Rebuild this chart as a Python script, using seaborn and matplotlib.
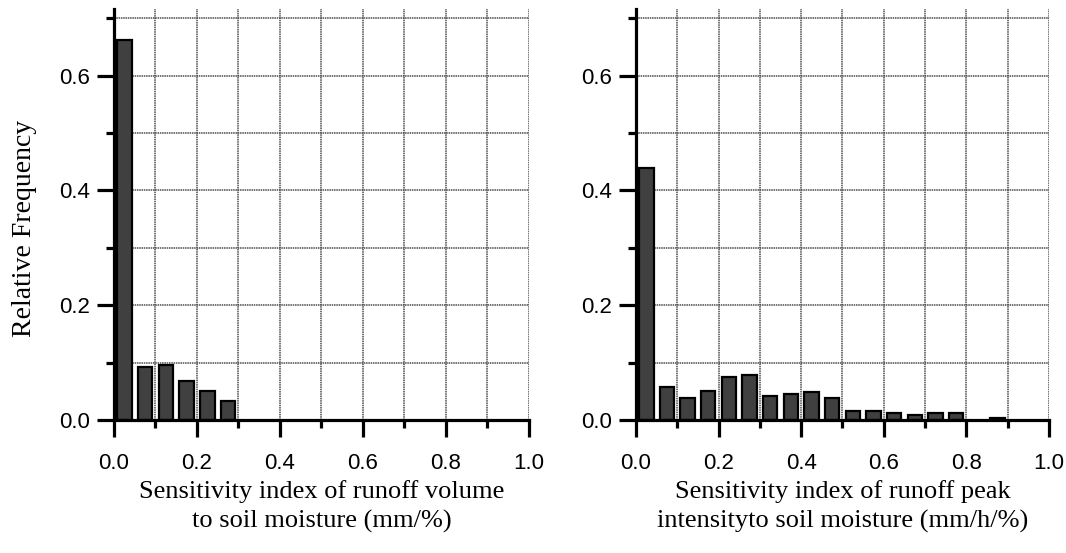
import pandas as pd
import matplotlib
matplotlib.use("Agg")
import matplotlib.pyplot as plt
from matplotlib.ticker import MultipleLocator, FormatStrFormatter
import seaborn as sns

# Bin centres of the sensitivity index (bin width 0.05) and relative frequencies
bin_centres = [0.025, 0.075, 0.125, 0.175, 0.225, 0.275, 0.325, 0.375, 0.425, 0.475,
               0.525, 0.575, 0.625, 0.675, 0.725, 0.775, 0.825, 0.875, 0.925, 0.975]
freq_volume = [0.663, 0.092, 0.096, 0.068, 0.050, 0.033, 0.0, 0.0, 0.0, 0.0,
               0.0, 0.0, 0.0, 0.0, 0.0, 0.0, 0.0, 0.0, 0.0, 0.0]
freq_peak = [0.440, 0.058, 0.038, 0.050, 0.075, 0.078, 0.042, 0.046, 0.049, 0.038,
             0.016, 0.016, 0.013, 0.009, 0.012, 0.012, 0.0, 0.004, 0.0, 0.0]

xlabel_volume = "Sensitivity index of runoff volume\nto soil moisture (mm/%)"
xlabel_peak = "Sensitivity index of runoff peak\nintensityto soil moisture (mm/h/%)"
ylabel = "Relative Frequency"

sns.set_theme(style="white")
plt.rcParams["font.family"] = ["Liberation Sans", "DejaVu Sans"]

fig = plt.figure(figsize=(10.66, 5.53), dpi=100)
ax_l = fig.add_axes([0.1069, 0.2405, 0.3893, 0.7430])
ax_r = fig.add_axes([0.5966, 0.2405, 0.3874, 0.7430])

serif = {"family": "Liberation Serif", "size": 19, "color": "black"}


def draw_panel(ax, freqs, xlabel):
    df = pd.DataFrame({"index": bin_centres, "freq": freqs})
    df = df[df["freq"] > 0]
    sns.barplot(data=df, x="index", y="freq", native_scale=True, width=0.7,
                color="#404040", saturation=1.0, edgecolor="black",
                linewidth=1.6, errorbar=None, ax=ax, zorder=3)
    ax.set_xlim(0, 1.0)
    ax.set_ylim(0, 0.716)
    ax.xaxis.set_major_locator(MultipleLocator(0.2))
    ax.xaxis.set_minor_locator(MultipleLocator(0.1))
    ax.set_yticks([0.0, 0.2, 0.4, 0.6])
    ax.set_yticks([0.1, 0.3, 0.5, 0.7], minor=True)
    ax.xaxis.set_major_formatter(FormatStrFormatter("%.1f"))
    ax.yaxis.set_major_formatter(FormatStrFormatter("%.1f"))
    ax.grid(True, which="both", color="0.3", linestyle=(0, (1, 0.5)),
            linewidth=1.1, zorder=0)
    ax.set_axisbelow(True)
    for side in ("top", "right"):
        ax.spines[side].set_visible(False)
    for side in ("left", "bottom"):
        ax.spines[side].set_linewidth(2.3)
        ax.spines[side].set_color("black")
        ax.spines[side].set_zorder(5)
    ax.tick_params(which="major", direction="out", length=12, width=2.3,
                   color="black", labelsize=16, labelcolor="black", pad=5,
                   left=True, bottom=True)
    ax.tick_params(which="minor", direction="out", length=6, width=2.3,
                   color="black", left=True, bottom=True)
    ax.tick_params(axis="x", which="major", pad=12)
    ax.set_xlabel(xlabel, fontdict=serif, labelpad=4, linespacing=1.4)
    ax.set_ylabel("")


draw_panel(ax_l, freq_volume, xlabel_volume)
draw_panel(ax_r, freq_peak, xlabel_peak)
ax_l.set_ylabel(ylabel, fontdict={**serif, "size": 20})
ax_l.yaxis.set_label_coords(-0.186, 0.467)

fig.savefig("out.png", dpi=100)
